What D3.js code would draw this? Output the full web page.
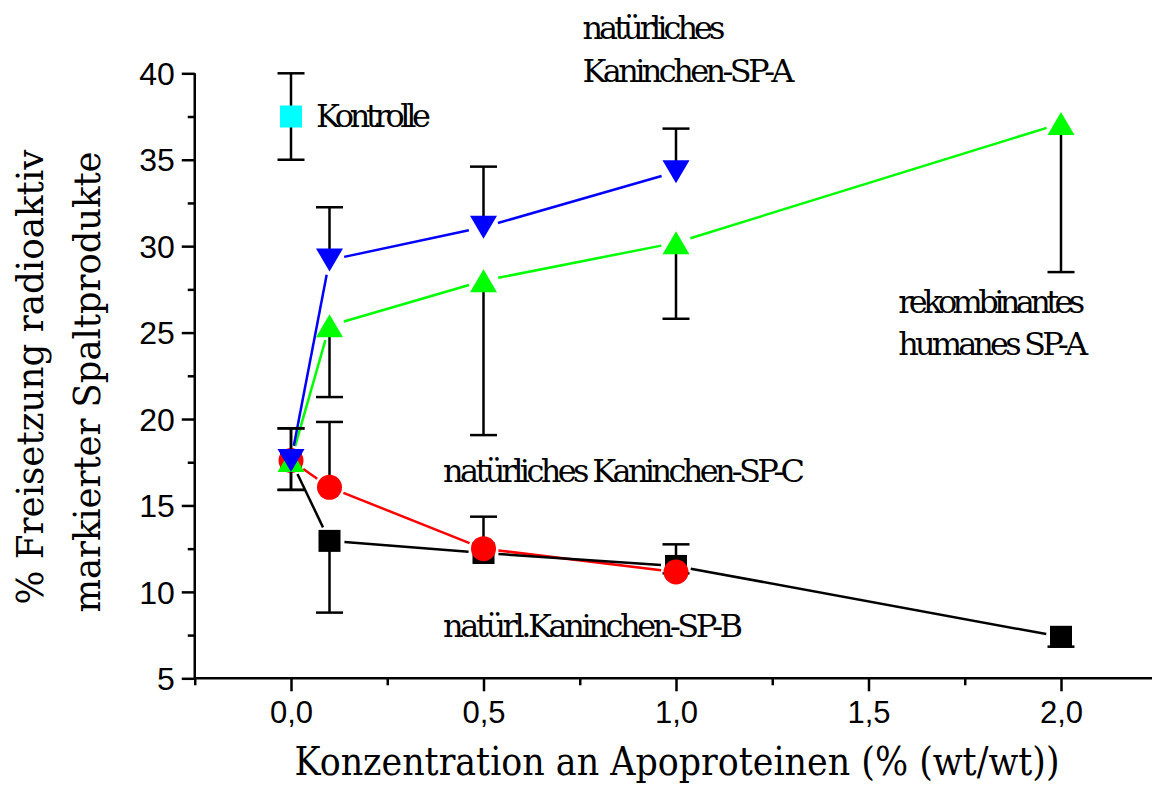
<!DOCTYPE html>
<html>
<head>
<meta charset="utf-8">
<script src="https://cdn.jsdelivr.net/npm/d3@7"></script>
<style>
  html, body { margin: 0; padding: 0; background: #fff; }
  svg { display: block; }
</style>
</head>
<body>
<div id="chart"></div>
<script>
// tick values and labels
const xTicks = [0, 0.5, 1.0, 1.5, 2.0];
const xTickLabels = ['0,0', '0,5', '1,0', '1,5', '2,0'];
const xMinorTicks = [-0.25, 0.25, 0.75, 1.25, 1.75];
const yTicks = [5, 10, 15, 20, 25, 30, 35, 40];
const yMinorTicks = [7.5, 12.5, 17.5, 22.5, 27.5, 32.5, 37.5];

// natürl. Kaninchen-SP-B (black squares, error bars downward)
const spbConc = [0, 0.1, 0.5, 1.0, 2.0];
const spbValue = [17.6, 12.95, 12.25, 11.5, 7.4];
const spbLow = [15.9, 8.8, null, 11.07, 6.83];

// natürliches Kaninchen-SP-C (red circles, error bars upward)
const spcConc = [0, 0.1, 0.5, 1.0];
const spcValue = [17.6, 16.05, 12.5, 11.15];
const spcHigh = [19.46, 19.83, 14.35, 12.75];

// rekombinantes humanes SP-A (green triangles up, error bars downward)
const rhConc = [0, 0.1, 0.5, 1.0, 2.0];
const rhValue = [17.6, 25.4, 28.0, 30.2, 37.1];
const rhLow = [15.9, 21.27, 19.07, 25.8, 28.5];

// natürliches Kaninchen-SP-A (blue triangles down, error bars upward)
const spaConc = [0, 0.1, 0.5, 1.0];
const spaValue = [17.6, 29.2, 31.1, 34.3];
const spaHigh = [19.46, 32.25, 34.6, 36.8];

// Kontrolle
const ctrlConc = [0];
const ctrlValue = [37.5];
const ctrlLow = [35];
const ctrlHigh = [40];

// text annotations, anchored in data units
const notes = [
  { text: 'Kontrolle', x: 0.065, y: 36.87, w: 115 },
  { text: 'natürliches', x: 0.757, y: 41.96, w: 143 },
  { text: 'Kaninchen-SP-A', x: 0.757, y: 39.49, w: 212 },
  { text: 'rekombinantes', x: 1.577, y: 26.13, w: 187 },
  { text: 'humanes SP-A', x: 1.577, y: 23.7, w: 190 },
  { text: 'natürliches Kaninchen-SP-C', x: 0.395, y: 16.37, w: 362 },
  { text: 'natürl.Kaninchen-SP-B', x: 0.395, y: 7.41, w: 300 }
];

const W = 1152, H = 785;
const serif = "'DejaVu Serif', serif";
const sans = "'Liberation Sans', Arial, sans-serif";

const svg = d3.select('#chart').append('svg')
  .attr('width', W).attr('height', H);

const x = d3.scaleLinear().domain([-0.25, 2.25]).range([194.75, 1157.25]);
const y = d3.scaleLinear().domain([5, 40]).range([678.3, 73.3]);

// axes
const xAxis = svg.append('g')
  .attr('transform', 'translate(0,' + y(5) + ')')
  .call(d3.axisBottom(x).tickValues(xTicks).tickSize(13)
    .tickFormat((d, i) => xTickLabels[i]));
svg.append('g')
  .attr('transform', 'translate(0,' + y(5) + ')')
  .call(d3.axisBottom(x).tickValues(xMinorTicks).tickSize(7).tickFormat(''))
  .select('.domain').remove();

const yAxis = svg.append('g')
  .attr('transform', 'translate(' + x(-0.25) + ',0)')
  .call(d3.axisLeft(y).tickValues(yTicks).tickSize(13).tickFormat(d3.format('d')));
svg.append('g')
  .attr('transform', 'translate(' + x(-0.25) + ',0)')
  .call(d3.axisLeft(y).tickValues(yMinorTicks).tickSize(7).tickFormat(''))
  .select('.domain').remove();

svg.selectAll('.domain').attr('stroke', '#000').attr('stroke-width', 2.5);
svg.selectAll('.tick line').attr('stroke', '#000').attr('stroke-width', 2.5);
xAxis.select('.domain').attr('d', 'M' + x(-0.25) + ',0H' + x(2.25));
yAxis.select('.domain').attr('d', 'M0,' + y(5) + 'V' + y(40));

xAxis.selectAll('.tick text')
  .attr('font-family', sans).attr('font-size', 31).attr('fill', '#000')
  .attr('y', 23).attr('dy', '0.71em');
yAxis.selectAll('.tick text')
  .attr('font-family', sans).attr('font-size', 32).attr('fill', '#000')
  .attr('x', -20).attr('dy', '0.35em');

// axis titles
svg.append('text')
  .attr('x', 677).attr('y', 775)
  .attr('text-anchor', 'middle')
  .attr('font-family', serif).attr('font-size', 39)
  .attr('textLength', 765).attr('lengthAdjust', 'spacingAndGlyphs')
  .text('Konzentration an Apoproteinen (% (wt/wt))');

svg.append('text')
  .attr('transform', 'translate(43,377) rotate(-90)')
  .attr('text-anchor', 'middle')
  .attr('font-family', serif).attr('font-size', 38)
  .attr('textLength', 455).attr('lengthAdjust', 'spacingAndGlyphs')
  .text('% Freisetzung radioaktiv');
svg.append('text')
  .attr('transform', 'translate(100,382) rotate(-90)')
  .attr('text-anchor', 'middle')
  .attr('font-family', serif).attr('font-size', 38)
  .attr('textLength', 461).attr('lengthAdjust', 'spacingAndGlyphs')
  .text('markierter Spaltprodukte');

// helpers
function pts(conc, vals) {
  return conc.map((c, i) => ({ c: c, v: vals[i] }));
}

// line segments that stop short of the markers
function drawLine(data, color) {
  const gap = 15;
  const segs = [];
  for (let i = 0; i < data.length - 1; i++) {
    const x0 = x(data[i].c), y0 = y(data[i].v);
    const x1 = x(data[i + 1].c), y1 = y(data[i + 1].v);
    const len = Math.hypot(x1 - x0, y1 - y0);
    const ux = (x1 - x0) / len, uy = (y1 - y0) / len;
    segs.push([[x0 + ux * gap, y0 + uy * gap], [x1 - ux * gap, y1 - uy * gap]]);
  }
  svg.append('g').selectAll('path').data(segs).join('path')
    .attr('d', d3.line())
    .attr('fill', 'none')
    .attr('stroke', color)
    .attr('stroke-width', 2.5);
}

function drawErr(conc, vals, ends) {
  const data = conc.map((c, i) => ({ c: c, v: vals[i], e: ends[i] }))
    .filter(d => d.e != null);
  const g = svg.append('g').attr('stroke', '#000').attr('stroke-width', 2.5);
  g.selectAll('.stem').data(data).join('line')
    .attr('x1', d => x(d.c)).attr('x2', d => x(d.c))
    .attr('y1', d => y(d.v)).attr('y2', d => y(d.e));
  g.selectAll('.cap').data(data).join('line')
    .attr('x1', d => x(d.c) - 13.5).attr('x2', d => x(d.c) + 13.5)
    .attr('y1', d => y(d.e)).attr('y2', d => y(d.e));
}

const triUp = 'M0,-11.5L13.5,11.5L-13.5,11.5Z';
const triDown = 'M0,11.5L13.5,-11.5L-13.5,-11.5Z';

function drawMarkers(data, kind, color) {
  const g = svg.append('g');
  if (kind === 'square') {
    g.selectAll('rect').data(data).join('rect')
      .attr('x', d => x(d.c) - 11).attr('y', d => y(d.v) - 11)
      .attr('width', 22).attr('height', 22)
      .attr('fill', color);
  } else if (kind === 'circle') {
    g.selectAll('circle').data(data).join('circle')
      .attr('cx', d => x(d.c)).attr('cy', d => y(d.v))
      .attr('r', 12.5).attr('fill', color);
  } else {
    g.selectAll('path').data(data).join('path')
      .attr('transform', d => 'translate(' + x(d.c) + ',' + y(d.v) + ')')
      .attr('d', kind === 'up' ? triUp : triDown)
      .attr('fill', color);
  }
}

const spb = pts(spbConc, spbValue);
const spc = pts(spcConc, spcValue);
const rh = pts(rhConc, rhValue);
const spa = pts(spaConc, spaValue);
const ctrl = pts(ctrlConc, ctrlValue);

drawLine(spc, '#ff0000');
drawLine(spb, '#000000');
drawLine(rh, '#00ff00');
drawLine(spa, '#0000ff');

drawErr(spbConc, spbValue, spbLow);
drawMarkers(spb, 'square', '#000000');
drawErr(spcConc, spcValue, spcHigh);
drawMarkers(spc, 'circle', '#ff0000');
drawErr(rhConc, rhValue, rhLow);
drawMarkers(rh, 'up', '#00ff00');
drawErr(spaConc, spaValue, spaHigh);
drawMarkers(spa, 'down', '#0000ff');
drawErr(ctrlConc, ctrlValue, ctrlLow);
drawErr(ctrlConc, ctrlValue, ctrlHigh);
drawMarkers(ctrl, 'square', '#00ffff');

// annotations
svg.append('g').selectAll('text').data(notes).join('text')
  .attr('x', d => x(d.x)).attr('y', d => y(d.y))
  .attr('font-family', serif).attr('font-size', 32).attr('fill', '#000')
  .attr('textLength', d => d.w).attr('lengthAdjust', 'spacing')
  .text(d => d.text);
</script>
</body>
</html>
